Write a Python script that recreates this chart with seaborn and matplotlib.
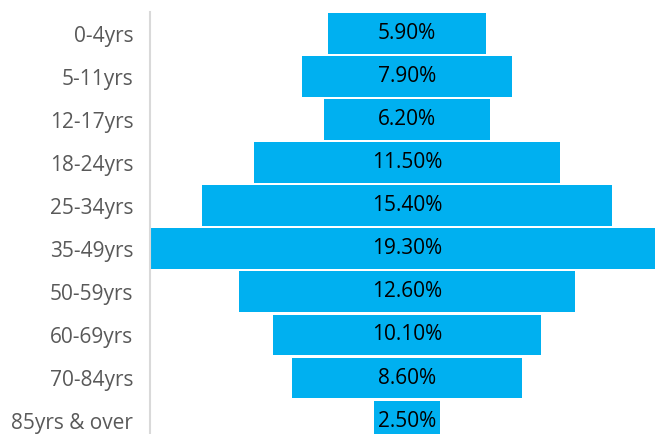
import matplotlib
matplotlib.use("Agg")
import matplotlib.pyplot as plt
import seaborn as sns
import pandas as pd

# Age bands and share of population (%)
age_groups = ["0-4yrs", "5-11yrs", "12-17yrs", "18-24yrs", "25-34yrs",
              "35-49yrs", "50-59yrs", "60-69yrs", "70-84yrs", "85yrs & over"]
shares = [5.9, 7.9, 6.2, 11.5, 15.4, 19.3, 12.6, 10.1, 8.6, 2.5]

df = pd.DataFrame({"age": age_groups, "share": shares})

sns.set_style("white")
plt.rcParams["font.family"] = ["Open Sans", "DejaVu Sans"]

fig = plt.figure(figsize=(6.55, 4.34), dpi=100)
# widest bar runs a little past the right edge of the image
ax = fig.add_axes([150 / 655, 0, 514 / 655, 1 - 12 / 434])

# centred bars: shift each bar left by half its width
ax.barh(df.index, df["share"], left=-df["share"] / 2, height=0.95,
        color="#00B0F0", edgecolor="none")

for i, v in enumerate(df["share"]):
    ax.text(0, i, f"{v:.2f}%", ha="center", va="center",
            fontsize=15, color="#000000")

half = df["share"].max() / 2
ax.set_xlim(-half, half)
ax.set_ylim(9.30, -0.5)
ax.set_yticks(df.index)
ax.set_yticklabels(df["age"], fontsize=15, color="#595959")
ax.tick_params(axis="y", length=0, pad=12)
ax.set_xticks([])

for side in ["top", "right", "bottom"]:
    ax.spines[side].set_visible(False)
ax.spines["left"].set_color("#D9D9D9")
ax.spines["left"].set_linewidth(1.5)

fig.savefig("out.png", dpi=100)
